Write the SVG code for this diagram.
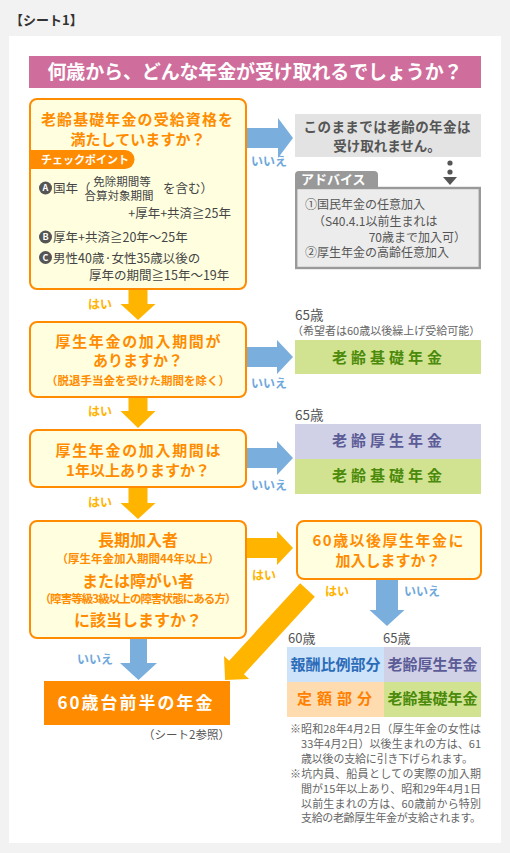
<svg xmlns="http://www.w3.org/2000/svg" width="510" height="853" viewBox="0 0 510 853">
<defs>
<style>
text{font-family:"Noto Sans CJK JP","Noto Sans",sans-serif;}
.q{fill:#ff8c00;font-weight:bold;font-size:15px;text-anchor:middle}
.qs{fill:#ff8c00;font-weight:bold;font-size:11.5px;text-anchor:middle}
.box{fill:#ffffe0;stroke:#ff8c00;stroke-width:2}
.amber{fill:#ffb400}
.blue{fill:#7aafdd}
.yes{fill:#ffb400;font-weight:bold;font-size:12px}
.no{fill:#6ea8dc;font-weight:bold;font-size:12px}
.cp{fill:#444;font-size:12.5px}
.cl{fill:#555}
.clt{fill:#fff;font-weight:bold;font-size:9px;text-anchor:middle}
.age{fill:#555;font-size:14px}
.adv{fill:#555;font-size:12px}
.note{fill:#666;font-size:11px}
.cell{font-weight:bold;font-size:15px;text-anchor:middle}
</style>
</defs>
<rect x="0" y="0" width="510" height="853" fill="#f2f2f2"/>
<text x="10" y="25" style="font-size:13px;font-weight:bold;fill:#333">【シート1】</text>
<rect x="9" y="36" width="492" height="807" fill="#ffffff"/>

<g id="title">
<rect x="29" y="56" width="452" height="32" fill="#cf6e9c"/>
<text x="255" y="79" textLength="415" lengthAdjust="spacing" style="font-size:19px;font-weight:bold;fill:#fff;text-anchor:middle">何歳から、どんな年金が受け取れるでしょうか？</text>
</g>

<g id="connectors">
<polygon class="amber" points="128.5,289 147.5,289 147.5,304 155.5,304 138,320 120.5,304 128.5,304"/>
<polygon class="amber" points="128.5,397 147.5,397 147.5,411 155.5,411 138,428 120.5,411 128.5,411"/>
<polygon class="amber" points="128.5,488 147.5,488 147.5,503 155.5,503 138,519 120.5,503 128.5,503"/>
<polygon class="blue" points="130,638 147,638 147,663 157,663 138.5,680 120,663 130,663"/>
<polygon class="blue" points="376,579 398,579 398,610 404.5,610 387,626 369.5,610 376,610"/>
<polygon class="blue" points="247,128 278,128 278,118 293,138 278,158 278,148 247,148"/>
<polygon class="blue" points="247,347 277,347 277,340 293,357 277,374 277,367 247,367"/>
<polygon class="blue" points="247,448 277,448 277,441 293,458 277,475 277,468 247,468"/>
<polygon class="amber" points="247,538 277,538 277,531 293,548 277,565 277,558 247,558"/>
<polygon class="amber" transform="translate(307.5,590) rotate(132.5)" points="0,-10 105,-10 105,-17 122,0 105,17 105,10 0,10"/>
<text class="yes" x="88" y="309">はい</text>
<text class="yes" x="88" y="416">はい</text>
<text class="yes" x="88" y="507">はい</text>
<text class="yes" x="252" y="580">はい</text>
<text class="yes" x="325" y="596">はい</text>
<text class="no" x="251" y="166">いいえ</text>
<text class="no" x="251" y="388">いいえ</text>
<text class="no" x="251" y="490">いいえ</text>
<text class="no" x="404" y="596">いいえ</text>
<text class="no" x="77" y="664">いいえ</text>
<circle cx="450" cy="163" r="2.6" fill="#555"/>
<circle cx="450" cy="172" r="2.6" fill="#555"/>
<polygon points="443,177 457,177 450,185" fill="#555"/>
</g>

<g id="q1">
<rect class="box" x="30" y="99" width="216" height="190" rx="7"/>
<text class="q" x="137" y="125" textLength="192" lengthAdjust="spacing">老齢基礎年金の受給資格を</text>
<text class="q" x="138" y="144.5" textLength="135" lengthAdjust="spacing">満たしていますか？</text>
<path d="M31,150 H125 A9.5,9.5 0 0 1 125,169 H31 Z" fill="#ff8c00"/>
<text x="41" y="164" style="font-size:11px;font-weight:bold;fill:#fff">チェックポイント</text>
<circle class="cl" cx="45.5" cy="188" r="6.5"/>
<text class="clt" x="45.5" y="191.3">A</text>
<text class="cp" x="53" y="193">国年（</text>
<text class="cp" x="122" y="185.5" style="font-size:11.5px;text-anchor:middle">免除期間等</text>
<text class="cp" x="119" y="200" style="font-size:11.5px;text-anchor:middle">合算対象期間</text>
<text class="cp" x="163" y="193">を含む）</text>
<text class="cp" x="231" y="218" style="text-anchor:end">+厚年+共済≧25年</text>
<circle class="cl" cx="45.5" cy="237" r="6.5"/>
<text class="clt" x="45.5" y="240.3">B</text>
<text class="cp" x="53" y="242">厚年+共済≧20年～25年</text>
<circle class="cl" cx="45.5" cy="257.5" r="6.5"/>
<text class="clt" x="45.5" y="260.8">C</text>
<text class="cp" x="53" y="262.5">男性40歳·女性35歳以後の</text>
<text class="cp" x="89" y="279.5">厚年の期間≧15年～19年</text>
</g>

<g id="no-pension">
<rect x="295" y="114" width="186" height="43" fill="#e3e3e3"/>
<text x="387" y="131.5" textLength="167" lengthAdjust="spacing" style="font-size:13.5px;font-weight:bold;fill:#555;text-anchor:middle">このままでは老齢の年金は</text>
<text x="387" y="150.5" style="font-size:13.5px;font-weight:bold;fill:#555;text-anchor:middle">受け取れません。</text>
</g>

<g id="advice">
<path d="M295,188 V175 A4,4 0 0 1 299,171 H374 A4,4 0 0 1 378,175 V188 Z" fill="#999"/>
<text x="301" y="184" style="font-size:13px;font-weight:bold;fill:#fff">アドバイス</text>
<rect x="296.2" y="188" width="183.6" height="80" fill="#ececec" stroke="#999" stroke-width="2.4"/>
<text class="adv" x="305" y="209">①国民年金の任意加入</text>
<text class="adv" x="313" y="226">（S40.4.1以前生まれは</text>
<text class="adv" x="466" y="242" style="text-anchor:end">70歳まで加入可）</text>
<text class="adv" x="305" y="257">②厚生年金の高齢任意加入</text>
</g>

<g id="q2">
<rect class="box" x="30" y="322" width="216" height="75" rx="7"/>
<text class="q" x="138" y="346.5" textLength="165" lengthAdjust="spacing">厚生年金の加入期間が</text>
<text class="q" x="138" y="366">ありますか？</text>
<text class="qs" x="138" y="385">（脱退手当金を受けた期間を除く）</text>
</g>

<g id="r1">
<text class="age" x="295" y="319.5" style="font-size:13.5px">65歳</text>
<text x="292" y="335" style="font-size:11px;fill:#666">（希望者は60歳以後繰上げ受給可能）</text>
<rect x="295" y="340" width="186" height="34" fill="#d1e391"/>
<text class="cell" x="389" y="363" style="fill:#4b8a0a;letter-spacing:4px">老齢基礎年金</text>
</g>

<g id="q3">
<rect class="box" x="30" y="430" width="216" height="57" rx="7"/>
<text class="q" x="138" y="455.5" textLength="165" lengthAdjust="spacing">厚生年金の加入期間は</text>
<text class="q" x="138" y="475.5">1年以上ありますか？</text>
</g>

<g id="r2">
<text class="age" x="295" y="419.5" style="font-size:13.5px">65歳</text>
<rect x="295" y="424" width="186" height="35" fill="#d0d1e6"/>
<text class="cell" x="389" y="446" style="fill:#5b5b96;letter-spacing:4px">老齢厚生年金</text>
<rect x="295" y="459" width="186" height="35" fill="#d1e391"/>
<text class="cell" x="389" y="481" style="fill:#4b8a0a;letter-spacing:4px">老齢基礎年金</text>
</g>

<g id="q4">
<rect class="box" x="30" y="521" width="216" height="117" rx="7"/>
<text class="q" x="138" y="546" style="font-size:16px">長期加入者</text>
<text class="qs" x="138" y="563">（厚生年金加入期間44年以上）</text>
<text class="q" x="138" y="587" style="font-size:16px">または障がい者</text>
<text class="qs" x="138" y="603" textLength="197" lengthAdjust="spacing">（障害等級3級以上の障害状態にある方）</text>
<text class="q" x="138" y="626" style="font-size:16px">に該当しますか？</text>
</g>

<g id="q5">
<rect class="box" x="297" y="521" width="184" height="58" rx="7"/>
<text class="q" x="388" y="545.5" textLength="151" lengthAdjust="spacing">60歳以後厚生年金に</text>
<text class="q" x="388" y="565.5">加入しますか？</text>
</g>

<g id="early">
<rect x="44" y="681" width="186" height="44" fill="#ff8c00"/>
<text x="136" y="709" style="font-size:17px;font-weight:bold;fill:#fff;text-anchor:middle;letter-spacing:2px">60歳台前半の年金</text>
<text x="230" y="739" style="font-size:11.5px;fill:#555;text-anchor:end">（シート2参照）</text>
</g>

<g id="table">
<text class="age" x="288" y="643" style="font-size:13px">60歳</text>
<text class="age" x="383" y="643" style="font-size:13px">65歳</text>
<rect x="287" y="647" width="97" height="35" fill="#cde3fa"/>
<rect x="384" y="647" width="97" height="35" fill="#d0d1e6"/>
<rect x="287" y="682" width="97" height="35" fill="#ffdcb0"/>
<rect x="384" y="682" width="97" height="35" fill="#d1e391"/>
<text class="cell" x="335.5" y="670" style="fill:#2b6cb8">報酬比例部分</text>
<text class="cell" x="432.5" y="670" style="fill:#5b5b96">老齢厚生年金</text>
<text class="cell" x="337" y="704" style="fill:#ff7f00;letter-spacing:5px">定額部分</text>
<text class="cell" x="432.5" y="704" style="fill:#4b8a0a">老齢基礎年金</text>
</g>

<g id="notes">
<text class="note" x="290" y="733" textLength="191" lengthAdjust="spacing">※昭和28年4月2日（厚生年金の女性は</text>
<text class="note" x="301" y="748" textLength="180" lengthAdjust="spacing">33年4月2日）以後生まれの方は、61</text>
<text class="note" x="301" y="763" textLength="172" lengthAdjust="spacing">歳以後の支給に引き下げられます。</text>
<text class="note" x="290" y="777.5" textLength="191" lengthAdjust="spacing">※坑内員、船員としての実際の加入期</text>
<text class="note" x="301" y="792.5" textLength="180" lengthAdjust="spacing">間が15年以上あり、昭和29年4月1日</text>
<text class="note" x="301" y="807.5" textLength="180" lengthAdjust="spacing">以前生まれの方は、60歳前から特別</text>
<text class="note" x="301" y="822" textLength="180" lengthAdjust="spacing">支給の老齢厚生年金が支給されます。</text>
</g>
</svg>
